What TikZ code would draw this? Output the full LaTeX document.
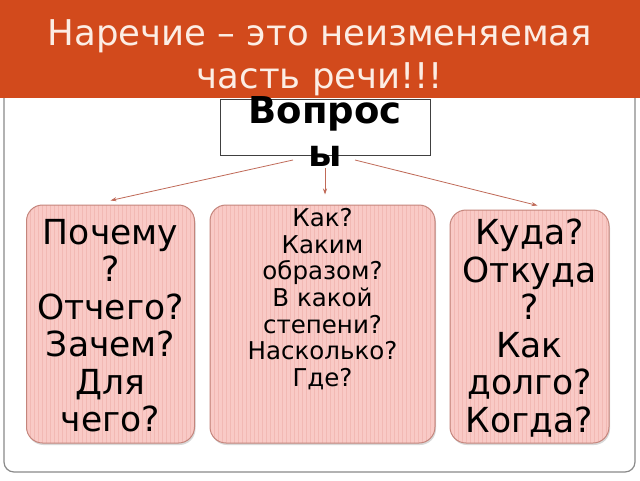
\documentclass[tikz,border=0pt]{standalone}
\usepackage{fontspec}
\setmainfont{DejaVu Sans}
\usetikzlibrary{arrows.meta,shadows}
\definecolor{bannerc}{HTML}{D24A1C}
\definecolor{pinkfill}{HTML}{F9CAC6}
\definecolor{pinkline}{HTML}{F2B9B4}
\definecolor{pinkborder}{HTML}{C4857C}
\definecolor{arrowc}{HTML}{C06A58}
\definecolor{titletext}{HTML}{FCEDE4}
\definecolor{framec}{HTML}{8A8A8A}
\begin{document}
\begin{tikzpicture}[x=1pt,y=-1pt,
  qbox/.style={draw=pinkborder, line width=1pt, fill=pinkfill, rounded corners=16pt, inner sep=0pt,
    drop shadow={shadow xshift=1pt, shadow yshift=-2pt, fill=black!30},
    path picture={\foreach \i in {0,4,...,240}{\draw[pinkline, line width=0.6pt]
      ([xshift=\i pt]path picture bounding box.north west) -- ([xshift=\i pt]path picture bounding box.south west);}}},
  bigtxt/.style={font=\fontsize{34.5}{37.5}\selectfont, align=center, inner sep=0pt, text=black},
  smalltxt/.style={font=\fontsize{24.5}{26.7}\selectfont, align=center, inner sep=0pt, text=black},
  conn/.style={draw=arrowc, line width=0.8pt, -{Stealth[length=6pt,width=4pt]}}
]
\useasboundingbox (0,0) rectangle (640,480);
\fill[white] (0,0) rectangle (640,480);
% frame
\draw[framec, line width=1.2pt, rounded corners=10pt] (4,60) rectangle (635,472);
% banner
\node[fill=bannerc, minimum width=640pt, minimum height=98pt, inner sep=0pt] (banner) at (320,49) {};
\node[font=\fontsize{35.5}{43}\selectfont, text=titletext, align=center, anchor=base] (title) at (320,88) {Наречие – это неизменяемая\\часть речи!!!};
% question box
\node[draw=black!75, line width=1pt, fill=white, minimum width=210pt, minimum height=56pt, inner sep=0pt] (q) at (325,127) {};
\node[font=\bfseries\fontsize{37}{43}\selectfont, align=center, inner sep=0pt, anchor=base] (qt) at (325,166) {Вопрос\\ы};
% boxes
\node[qbox, minimum width=168pt, minimum height=238pt] (lb) at (110.5,324) {};
\node[qbox, minimum width=225pt, minimum height=238pt] (mb) at (322.5,324) {};
\node[qbox, minimum width=159pt, minimum height=233pt] (rb) at (529.5,326.5) {};
\node[bigtxt, anchor=north] (lt) at (lb.north |- 0,219) {Почему\\?\\Отчего?\\Зачем?\\Для\\чего?};
\node[smalltxt, anchor=north] (mt) at (mb.north |- 0,208) {Как?\\Каким\\образом?\\В какой\\степени?\\Насколько?\\Где?};
\node[bigtxt, anchor=north] (rt) at (rb.north |- 0,219) {Куда?\\Откуда\\?\\Как\\долго?\\Когда?};
% connectors
\coordinate (s1) at (293,160);
\coordinate (s2) at (325,168);
\coordinate (s3) at (355,160);
\draw[conn] (s1) -- ([yshift=4pt]lb.north);
\draw[conn] (s2) -- ([yshift=10pt]mb.north -| s2);
\draw[conn] (s3) -- ([xshift=8pt,yshift=4pt]rb.north);
\end{tikzpicture}
\end{document}
